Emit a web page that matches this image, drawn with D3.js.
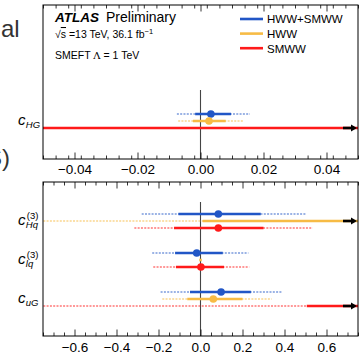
<!DOCTYPE html>
<html>
<head>
<meta charset="utf-8">
<script src="https://cdn.jsdelivr.net/npm/d3@7"></script>
<style>
  html, body { margin: 0; padding: 0; background: #fff; }
  svg { display: block; }
  text { font-family: "Liberation Sans", Arial, Helvetica, sans-serif; }
</style>
</head>
<body>
<svg id="chart" width="363" height="356"></svg>
<script>
// ---------------- data ----------------
const topCoefficients = ["HG"];
const bottomCoefficients = ["Hq3", "lq3", "uG"];
const coefficients = ["HG", "Hq3", "lq3", "uG"];

const seriesNames = ["HWW+SMWW", "HWW", "SMWW"];
const seriesColors = ["#2156c6", "#f7bb45", "#ff1a1a"];

// HWW+SMWW
const blueMid  = [0.0033, 0.085, -0.018, 0.098];
const blueLo68 = [-0.0017, -0.105, -0.121, -0.05];
const blueHi68 = [0.0097, 0.287, 0.106, 0.24];
const blueLo95 = [-0.0075, -0.28, -0.23, -0.19];
const blueHi95 = [0.0157, 0.502, 0.228, 0.39];
// HWW
const yellowMid  = [0.0027, null, null, 0.061];
const yellowLo68 = [-0.0024, 0.01, -0.006, -0.063];
const yellowHi68 = [0.008, 1.0, 0.006, 0.2];
const yellowLo95 = [-0.0071, -1.0, null, -0.182];
const yellowHi95 = [0.0135, 1.0, null, 0.339];
// SMWW
const redMid  = [null, 0.085, 0.002, null];
const redLo68 = [-0.1, -0.126, -0.117, 0.506];
const redHi68 = [0.1, 0.3, 0.112, 1.0];
const redLo95 = [null, -0.315, -0.225, -1.0];
const redHi95 = [null, 0.534, 0.232, 1.0];

const topTicks = [-0.04, -0.02, 0, 0.02, 0.04];
const bottomTicks = [-0.6, -0.4, -0.2, 0, 0.2, 0.4, 0.6];

// ---------------- layout ----------------
const svg = d3.select("#chart");
const X0 = 43, X1 = 358;

const panels = [
  { coeffs: topCoefficients, domain: [-0.05, 0.05], ticks: topTicks, minorStep: 0.004,
    y0: 5, y1: 159, rowRange: [121, 121], zeroTop: 90, labelPad: 5.5, fmt: d3.format(".2f") },
  { coeffs: bottomCoefficients, domain: [-0.75, 0.75], ticks: bottomTicks, minorStep: 0.05,
    y0: 182, y1: 336, rowRange: [221, 299], zeroTop: 202, labelPad: 6.5, fmt: d3.format(".1f") }
];

const seriesData = [
  { mid: blueMid, lo68: blueLo68, hi68: blueHi68, lo95: blueLo95, hi95: blueHi95 },
  { mid: yellowMid, lo68: yellowLo68, hi68: yellowHi68, lo95: yellowLo95, hi95: yellowHi95 },
  { mid: redMid, lo68: redLo68, hi68: redHi68, lo95: redLo95, hi95: redHi95 }
];
const offset = d3.scalePoint().domain(seriesNames).range([-7, 7]);

// slide leftovers (cropped slide text)
svg.append("text").attr("x", 1).attr("y", 37).attr("font-size", 24)
  .attr("font-family", "Lato, 'Open Sans', sans-serif").attr("font-weight", 300)
  .attr("fill", "#333").text("al");
svg.append("text").attr("x", 10).attr("y", 166).attr("text-anchor", "end").attr("font-size", 24)
  .attr("font-family", "Lato, 'Open Sans', sans-serif").attr("font-weight", 300)
  .attr("fill", "#333").text("S)");

panels.forEach((p, pi) => {
  const x = d3.scaleLinear().domain(p.domain).range([X0, X1]);
  const y = d3.scalePoint().domain(p.coeffs).range(p.rowRange);
  const g = svg.append("g");

  const clipId = "clip" + pi;
  svg.append("clipPath").attr("id", clipId).append("rect")
    .attr("x", X0).attr("y", p.y0).attr("width", X1 - X0).attr("height", p.y1 - p.y0);

  // zero line
  g.append("line").attr("x1", x(0)).attr("x2", x(0)).attr("y1", p.zeroTop).attr("y2", p.y1)
    .attr("stroke", "#444").attr("stroke-width", 1.1);

  const marks = g.append("g").attr("clip-path", `url(#${clipId})`);
  const clamp = v => Math.max(p.domain[0] - 0.02 * (p.domain[1] - p.domain[0]),
                              Math.min(p.domain[1] + 0.02 * (p.domain[1] - p.domain[0]), v));

  p.coeffs.forEach(c => {
    const ci = coefficients.indexOf(c);
    seriesNames.forEach((s, si) => {
      const d = seriesData[si];
      const yy = y(c) + offset(s);
      const col = seriesColors[si];
      if (d.lo95[ci] != null) {
        marks.append("line")
          .attr("x1", x(clamp(d.lo95[ci]))).attr("x2", x(clamp(d.hi95[ci])))
          .attr("y1", yy).attr("y2", yy)
          .attr("stroke", col).attr("stroke-width", 1.7).attr("stroke-opacity", 0.6)
          .attr("stroke-dasharray", "2,1.3");
      }
      if (d.lo68[ci] != null) {
        marks.append("line")
          .attr("x1", x(clamp(d.lo68[ci]))).attr("x2", x(clamp(d.hi68[ci])))
          .attr("y1", yy).attr("y2", yy)
          .attr("stroke", col).attr("stroke-width", 2.6);
      }
      if (d.mid[ci] != null) {
        marks.append("circle").attr("cx", x(d.mid[ci])).attr("cy", yy).attr("r", 3.8)
          .attr("fill", col);
      }
      if (d.hi68[ci] != null && d.hi68[ci] > p.domain[1]) {
        const xe = x(p.domain[1]);
        g.append("line").attr("x1", xe - 15).attr("x2", xe - 6).attr("y1", yy).attr("y2", yy)
          .attr("stroke", "#000").attr("stroke-width", 2.6);
        g.append("path")
          .attr("d", `M${xe - 7},${yy - 3.6}L${xe - 1},${yy}L${xe - 7},${yy + 3.6}Z`)
          .attr("fill", "#000");
      }
    });
  });

  // axes (ticks inward on bottom and top)
  const minor = d3.range(p.domain[0], p.domain[1] + 1e-9, p.minorStep)
    .map(v => +v.toFixed(4))
    .filter(v => !p.ticks.some(t => Math.abs(t - v) < 1e-6));

  const bottomMajor = d3.axisBottom(x).tickValues(p.ticks).tickFormat(p.fmt)
    .tickSizeInner(-6.5).tickSizeOuter(0).tickPadding(p.labelPad);
  const bottomMinor = d3.axisBottom(x).tickValues(minor).tickFormat("")
    .tickSizeInner(-3.5).tickSizeOuter(0);
  const topMajor = d3.axisTop(x).tickValues(p.ticks).tickFormat("")
    .tickSizeInner(-6.5).tickSizeOuter(0);
  const topMinor = d3.axisTop(x).tickValues(minor).tickFormat("")
    .tickSizeInner(-3.5).tickSizeOuter(0);

  [[bottomMajor, p.y1], [bottomMinor, p.y1], [topMajor, p.y0], [topMinor, p.y0]].forEach(([ax, yy]) => {
    const a = g.append("g").attr("transform", `translate(0,${yy})`).call(ax);
    a.select(".domain").remove();
    a.selectAll(".tick line").attr("stroke", "#000").attr("stroke-width", 0.8);
    a.selectAll(".tick text").attr("font-size", 13.5).attr("fill", "#000")
      .attr("font-family", "'Liberation Sans', Arial, sans-serif");
  });

  // frame
  g.append("rect").attr("x", X0).attr("y", p.y0).attr("width", X1 - X0).attr("height", p.y1 - p.y0)
    .attr("fill", "none").attr("stroke", "#000").attr("stroke-width", 1);

  // y labels
  const labelParts = {
    HG: { sub: "HG", sup: null },
    Hq3: { sub: "Hq", sup: "(3)" },
    lq3: { sub: "lq", sup: "(3)" },
    uG: { sub: "uG", sup: null }
  };
  p.coeffs.forEach(c => {
    const yy = y(c) + 3.5;
    const lp = labelParts[c];
    g.append("text").attr("x", 25.5).attr("y", yy).attr("text-anchor", "end")
      .attr("font-size", 15).attr("font-style", "italic").text("c");
    g.append("text").attr("x", 25.8).attr("y", yy + 3).attr("font-size", 9.5)
      .attr("font-style", "italic").text(lp.sub);
    if (lp.sup) {
      g.append("text").attr("x", 26.8).attr("y", yy - 6).attr("font-size", 9.5)
        .text(lp.sup);
    }
  });
});

// ---------------- annotations ----------------
svg.append("text").attr("x", 55).attr("y", 22).attr("font-size", 13.5)
  .attr("font-weight", "bold").attr("font-style", "italic").text("ATLAS");
svg.append("text").attr("x", 106).attr("y", 22).attr("font-size", 14).text("Preliminary");

const e1 = svg.append("text").attr("x", 55).attr("y", 38).attr("font-size", 10.5);
e1.append("tspan").text("\u221A");
e1.append("tspan").attr("text-decoration", "overline").style("text-decoration", "overline").text("s");
e1.append("tspan").text(" =13 TeV, 36.1 fb");
e1.append("tspan").attr("dy", -4).attr("font-size", 7.5).text("\u22121");

const e2 = svg.append("text").attr("x", 55).attr("y", 59).attr("font-size", 10.5);
e2.append("tspan").text("SMEFT ");
e2.append("tspan").attr("font-family", "'DejaVu Serif', serif").attr("font-size", 10).text("\u039B");
e2.append("tspan").text(" = 1 TeV");

// legend
seriesNames.forEach((s, i) => {
  const yy = 19 + i * 14.6;
  svg.append("line").attr("x1", 240).attr("x2", 263).attr("y1", yy).attr("y2", yy)
    .attr("stroke", seriesColors[i]).attr("stroke-width", 2.6);
  svg.append("text").attr("x", 267).attr("y", yy + 4.3).attr("font-size", 11.5).text(s);
});
</script>
</body>
</html>
